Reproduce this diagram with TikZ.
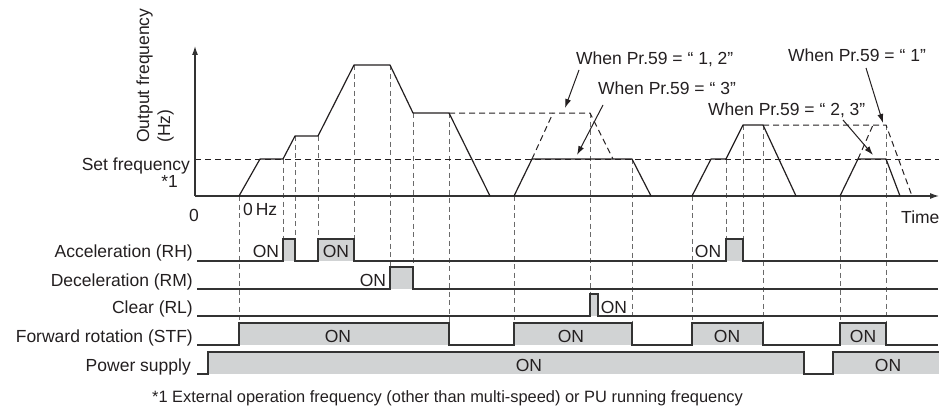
\documentclass[tikz,border=0pt]{standalone}
\usepackage{fontspec}
\setmainfont{Liberation Sans}
\usetikzlibrary{arrows.meta}
\definecolor{sig}{HTML}{333333}
\definecolor{fillg}{HTML}{D1D3D4}
\definecolor{dashg}{HTML}{6A6A6A}
\definecolor{txt}{HTML}{231F20}
\begin{document}
\begin{tikzpicture}[x=1pt,y=-1pt,
  lbl/.style={font=\fontsize{17.5}{20}\selectfont, text=txt, inner sep=0pt},
  curve/.style={line width=1.2pt, draw=txt, line join=round},
  dcurve/.style={line width=1.0pt, draw=txt, dash pattern=on 6pt off 4pt},
  vguide/.style={line width=0.9pt, draw=dashg, dash pattern=on 5pt off 3.5pt},
  sigline/.style={line width=1.2pt, draw=sig},
  pulse/.style={fill=fillg},
  axisline/.style={line width=1.2pt, draw=sig, -{Latex[length=9pt,width=6pt]}},
  callout/.style={line width=1pt, draw=txt, -{Latex[length=9pt,width=6pt]}}]
\useasboundingbox (0,0) rectangle (939,412);

% ---------- vertical guides ----------
\foreach \x/\a/\b in {239/196/323, 283/159/239, 295/136/239, 318/136/239,
  354/65/239, 390/65/267, 413/113/267, 449/113/323, 514/196/323,
  590/113/294, 632/159/323, 692/196/323, 726/159/239, 743/125/239,
  763/125/323, 840/196/323, 886/125/323}
  \draw[vguide] (\x,\a) -- (\x,\b);

% ---------- pulse fills ----------
\fill[pulse] (283,239) rectangle (295,261);
\fill[pulse] (318,239) rectangle (354,261);
\fill[pulse] (726,239) rectangle (743,261);
\fill[pulse] (390,267) rectangle (413,289);
\fill[pulse] (590,294) rectangle (598,316);
\fill[pulse] (239,323) rectangle (449,345);
\fill[pulse] (514,323) rectangle (632,345);
\fill[pulse] (692,323) rectangle (763,345);
\fill[pulse] (840,323) rectangle (886,345);
\fill[pulse] (208,352) rectangle (804,374);
\fill[pulse] (833,352) rectangle (939,374);

% ---------- signal lines ----------
\draw[sigline] (197,261) -- (283,261) -- (283,239) -- (295,239) -- (295,261)
  -- (318,261) -- (318,239) -- (354,239) -- (354,261) -- (726,261)
  -- (726,239) -- (743,239) -- (743,261) -- (938,261);
\draw[sigline] (197,289) -- (390,289) -- (390,267) -- (413,267) -- (413,289) -- (938,289);
\draw[sigline] (197,316) -- (590,316) -- (590,294) -- (598,294) -- (598,316) -- (938,316);
\draw[sigline] (197,345) -- (239,345) -- (239,323) -- (449,323) -- (449,345)
  -- (514,345) -- (514,323) -- (632,323) -- (632,345) -- (692,345)
  -- (692,323) -- (763,323) -- (763,345) -- (840,345) -- (840,323)
  -- (886,323) -- (886,345) -- (938,345);
\draw[sigline] (197,374) -- (208,374) -- (208,352) -- (804,352) -- (804,374)
  -- (833,374) -- (833,352) -- (939,352);

% ---------- axes ----------
\coordinate (O) at (195,196);
\coordinate (ytip) at (195,46);
\coordinate (xtip) at (939,196);
\draw[dcurve] (O |- 0,159) -- (939,159);
\draw[axisline] (O) -- (ytip);
\draw[axisline] (O) -- (xtip);

% ---------- frequency curve ----------
\draw[curve] (239,196) -- (260,159) -- (283,159) -- (295,136) -- (318,136)
  -- (354,65) -- (390,65) -- (413,113) -- (449,113) -- (490,196);
\draw[curve] (514,196) -- (532,159) -- (632,159) -- (651,196);
\draw[curve] (692,196) -- (711,159) -- (726,159) -- (743,125) -- (763,125) -- (796,196);
\draw[curve] (840,196) -- (858,159) -- (886,159) -- (900,196);

\draw[dcurve] (449,113) -- (590,113) -- (613,159);
\draw[dcurve] (532,159) -- (553,113);
\draw[dcurve] (763,125) -- (886,125) -- (912,196);
\draw[dcurve] (858,159) -- (873,125);

% ---------- axis labels ----------
\node[lbl, rotate=90, anchor=base west] (yl1) at (149,143) {Output frequency};
\node[lbl, rotate=90, anchor=base west] (yl2) at (170,143) {(Hz)};
\node[lbl, anchor=base east] (setf) at (190,170) {Set frequency};
\node[lbl, anchor=base east] (star) at (178,187) {*1};
\node[lbl, anchor=base] (zero) at (194,221) {0};
\node[lbl, anchor=base west] (zhz) at (243,215) {0\,Hz};
\node[lbl, anchor=base west] (time) at (901,223) {Time};

% ---------- callouts ----------
\node[lbl, anchor=base west] (w12) at (576,65) {When Pr.59 = “ 1, 2”};
\node[lbl, anchor=base west] (w3) at (598,94) {When Pr.59 = “ 3”};
\node[lbl, anchor=base west] (w23) at (708,115) {When Pr.59 = “ 2, 3”};
\node[lbl, anchor=base west] (w1) at (788,62) {When Pr.59 = “ 1”};
\coordinate (t12) at (565,108);
\coordinate (t3) at (577,155);
\coordinate (t23) at (873,155);
\coordinate (t1) at (883,123);
\draw[callout] (579,70) -- (t12);
\draw[callout] (603,105) -- (t3);
\draw[callout] (843,120) -- (t23);
\draw[callout] (866,68) -- (t1);

% ---------- row labels ----------
\node[lbl, anchor=base east] (lRH) at (193,257) {Acceleration (RH)};
\node[lbl, anchor=base east] (lRM) at (193,286) {Deceleration (RM)};
\node[lbl, anchor=base east] (lRL) at (193,313) {Clear (RL)};
\node[lbl, anchor=base east] (lSTF) at (193,342) {Forward rotation (STF)};
\node[lbl, anchor=base east] (lPW) at (191,371) {Power supply};

% ---------- ON labels ----------
\node[lbl, anchor=base] (on1) at (266,257) {ON};
\node[lbl, anchor=base] (on2) at (336,257) {ON};
\node[lbl, anchor=base] (on3) at (708,257) {ON};
\node[lbl, anchor=base] (on4) at (373,286) {ON};
\node[lbl, anchor=base] (on5) at (614,313) {ON};
\node[lbl, anchor=base] (on6) at (338,342) {ON};
\node[lbl, anchor=base] (on7) at (571,342) {ON};
\node[lbl, anchor=base] (on8) at (727,342) {ON};
\node[lbl, anchor=base] (on9) at (863,342) {ON};
\node[lbl, anchor=base] (on10) at (529,371) {ON};
\node[lbl, anchor=base] (on11) at (888,371) {ON};

% ---------- footnote ----------
\node[lbl, font=\fontsize{16.4}{19}\selectfont, anchor=base west] (foot) at (152,402) {*1 External operation frequency (other than multi-speed) or PU running frequency};
\end{tikzpicture}
\end{document}
